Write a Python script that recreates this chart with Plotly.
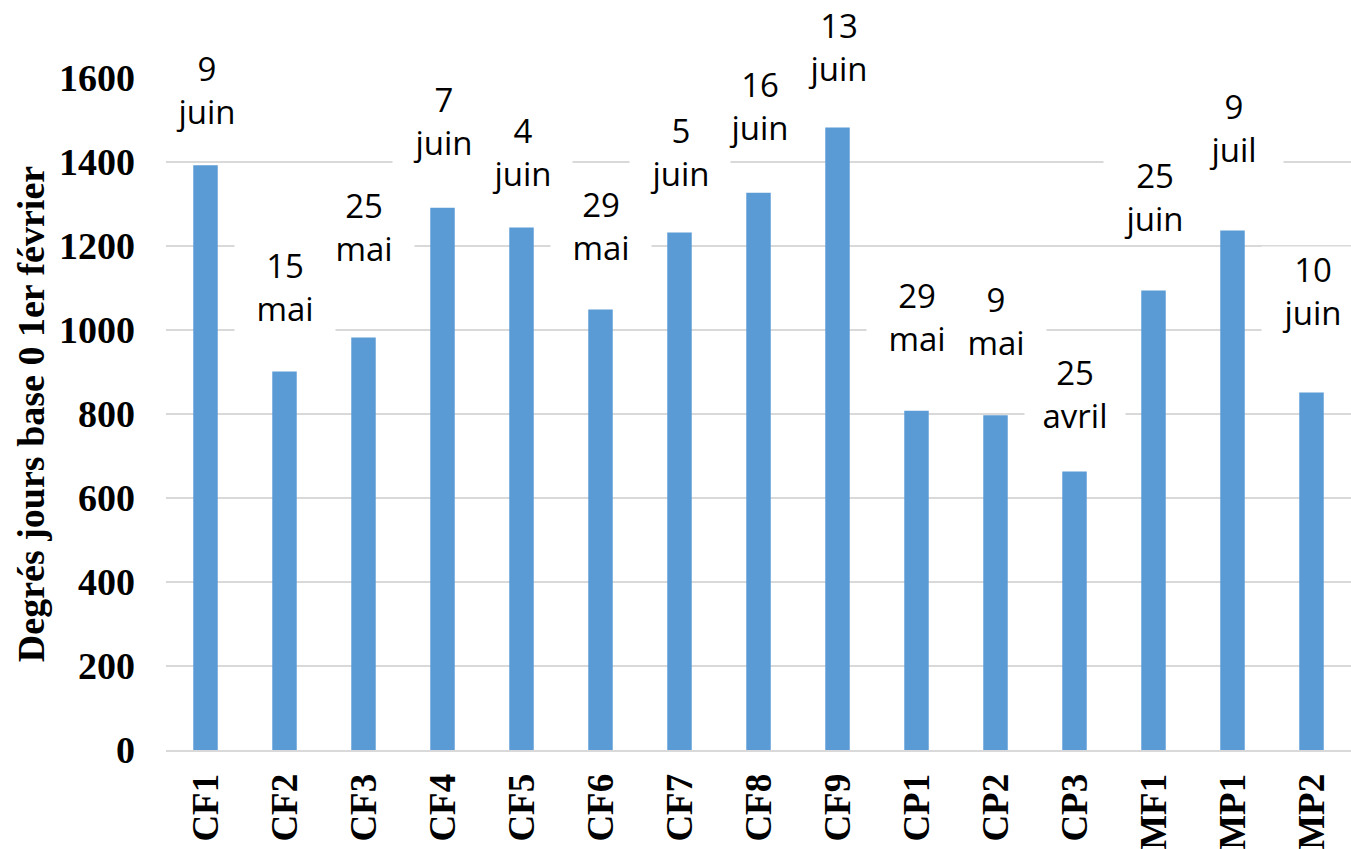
import plotly.graph_objects as go

# ---- data ----
categories = ["CF1", "CF2", "CF3", "CF4", "CF5", "CF6", "CF7", "CF8", "CF9",
              "CP1", "CP2", "CP3", "MF1", "MP1", "MP2"]
degree_days = [1392, 901, 982, 1291, 1244, 1049, 1232, 1327, 1482,
               808, 797, 663, 1094, 1237, 851]
date_labels = ["9<br>juin", "15<br>mai", "25<br>mai", "7<br>juin", "4<br>juin",
               "29<br>mai", "5<br>juin", "16<br>juin", "13<br>juin", "29<br>mai",
               "9<br>mai", "25<br>avril", "25<br>juin", "9<br>juil", "10<br>juin"]
y_ticks = [0, 200, 400, 600, 800, 1000, 1200, 1400, 1600]

# ---- label placement (px gap between bar top and label's last baseline) ----
label_gap = [44, 54, 80, 56, 45, 52, 50, 56, 50, 63, 63, 47, 63, 71, 71]

BAR_COLOR = "#5B9BD5"
GRID = "#D9D9D9"
SERIF = "Liberation Serif"

fig = go.Figure()
fig.add_trace(go.Bar(
    x=categories, y=degree_days,
    marker=dict(color=BAR_COLOR, line=dict(width=0)),
    width=0.31,
    hoverinfo="x+y",
))

for cat, val, txt, gap in zip(categories, degree_days, date_labels, label_gap):
    fig.add_annotation(
        x=cat, y=val, xref="x", yref="y",
        text=txt, showarrow=False,
        xanchor="center", yanchor="bottom",
        yshift=gap - 14,
        width=100, align="center",
        bgcolor="white", borderpad=0,
        font=dict(family="Open Sans", size=33, color="black"),
    )

fig.update_layout(
    width=1351, height=849,
    autosize=False,
    margin=dict(l=166, r=0, t=78, b=99, autoexpand=False),
    paper_bgcolor="white", plot_bgcolor="white",
    showlegend=False,
    bargap=0.69,
)
fig.update_xaxes(
    type="category",
    range=[-0.5, len(categories) - 0.5],
    automargin=False,
    tickangle=-90,
    tickfont=dict(family=SERIF, size=37, color="black", weight="bold"),
    showline=True, linecolor=GRID, linewidth=2,
    showgrid=False, ticks="",
    ticklabelstandoff=7,
)
fig.update_yaxes(
    automargin=False,
    range=[0, 1600],
    tickvals=y_ticks,
    tickfont=dict(family=SERIF, size=38, color="black", weight="bold"),
    showgrid=True, gridcolor=GRID, gridwidth=2,
    zeroline=False, showline=False, ticks="",
    ticklabelstandoff=30,
    title=dict(text="Degrés jours base 0 1er février",
               font=dict(family=SERIF, size=38, color="black", weight="bold"),
               standoff=2),
)

fig.write_html(
    "out.html",
    config={"responsive": False, "displayModeBar": False},
    post_script="document.body.style.margin='0';document.body.style.overflow='hidden';",
)
